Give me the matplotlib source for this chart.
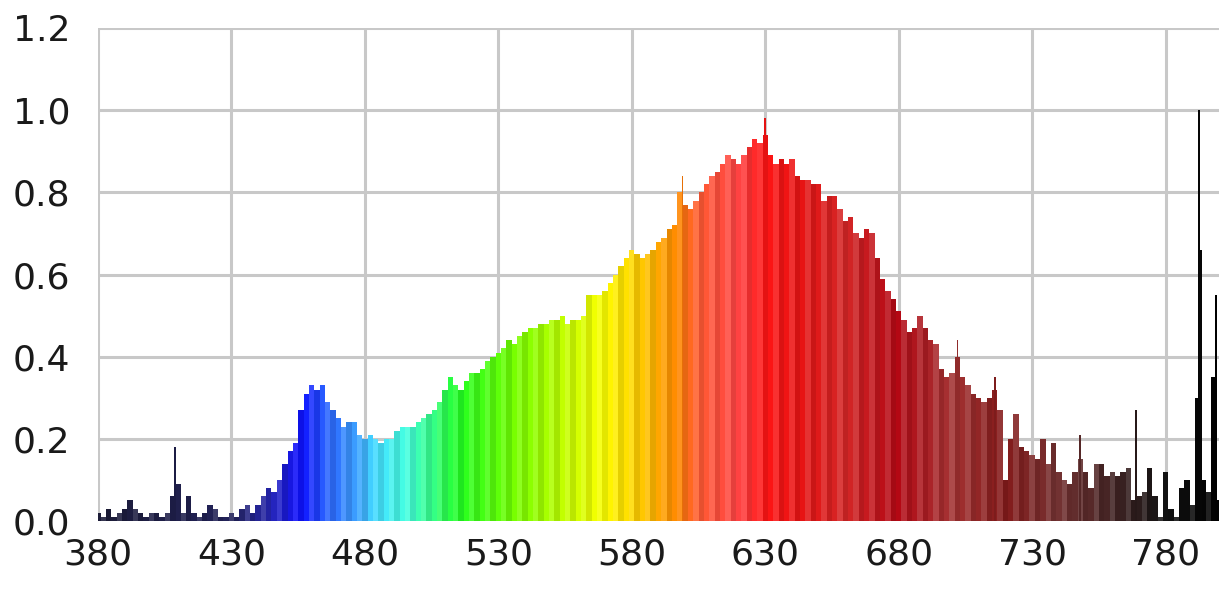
import numpy as np
import matplotlib
matplotlib.use('Agg')
import matplotlib.pyplot as plt
from matplotlib.colors import LinearSegmentedColormap, to_rgb

# spectrum sampled every 2 nm, 380..800
wavelength = np.arange(380, 801, 2)
intensity = [
    0.02, 0.01, 0.03, 0.01, 0.02, 0.03, 0.05, 0.03, 0.02, 0.01,  # 380
    0.02, 0.02, 0.01, 0.02, 0.06, 0.09, 0.02, 0.06, 0.02, 0.01,  # 400
    0.02, 0.04, 0.03, 0.01, 0.01, 0.02, 0.01, 0.03, 0.04, 0.02,  # 420
    0.04, 0.06, 0.08, 0.07, 0.10, 0.14, 0.17, 0.19, 0.27, 0.31,  # 440
    0.33, 0.32, 0.33, 0.29, 0.27, 0.25, 0.23, 0.24, 0.24, 0.21,  # 460
    0.20, 0.21, 0.20, 0.19, 0.20, 0.20, 0.22, 0.23, 0.23, 0.23,  # 480
    0.24, 0.25, 0.26, 0.27, 0.29, 0.32, 0.35, 0.33, 0.32, 0.34,  # 500
    0.36, 0.36, 0.37, 0.39, 0.40, 0.41, 0.42, 0.44, 0.43, 0.45,  # 520
    0.46, 0.47, 0.47, 0.48, 0.48, 0.49, 0.49, 0.50, 0.48, 0.49,  # 540
    0.49, 0.50, 0.55, 0.55, 0.55, 0.56, 0.58, 0.60, 0.62, 0.64,  # 560
    0.66, 0.65, 0.64, 0.65, 0.66, 0.68, 0.69, 0.71, 0.72, 0.80,  # 580
    0.77, 0.76, 0.78, 0.80, 0.82, 0.84, 0.85, 0.87, 0.89, 0.88,  # 600
    0.87, 0.89, 0.91, 0.93, 0.92, 0.94, 0.89, 0.87, 0.88, 0.87,  # 620
    0.88, 0.84, 0.83, 0.83, 0.82, 0.82, 0.78, 0.79, 0.79, 0.76,  # 640
    0.73, 0.74, 0.70, 0.69, 0.71, 0.70, 0.64, 0.59, 0.56, 0.54,  # 660
    0.51, 0.49, 0.46, 0.47, 0.50, 0.47, 0.44, 0.43, 0.37, 0.35,  # 680
    0.36, 0.40, 0.35, 0.33, 0.31, 0.30, 0.29, 0.30, 0.32, 0.27,  # 700
    0.10, 0.20, 0.26, 0.18, 0.17, 0.16, 0.15, 0.20, 0.14, 0.19,  # 720
    0.12, 0.10, 0.09, 0.12, 0.15, 0.12, 0.08, 0.14, 0.14, 0.11,  # 740
    0.12, 0.11, 0.12, 0.13, 0.05, 0.06, 0.07, 0.13, 0.06, 0.01,  # 760
    0.12, 0.03, 0.01, 0.08, 0.10, 0.04, 0.30, 0.10, 0.07, 0.35,  # 780
    0.05,                                                        # 800
]

# narrow emission lines on top of the sampled spectrum
spike_nm = [409, 599, 630, 702, 716, 748, 769, 792.4, 793.2, 799]
spike_val = [0.18, 0.84, 0.98, 0.44, 0.35, 0.21, 0.27, 1.00, 0.66, 0.55]

x_ticks = [380, 430, 480, 530, 580, 630, 680, 730, 780]
y_ticks = [0.0, 0.2, 0.4, 0.6, 0.8, 1.0, 1.2]

# wavelength -> colour
anchors = [
    (380, '#1c1c38'), (430, '#22225a'), (445, '#2626b8'), (455, '#0c0cff'),
    (465, '#2a62ff'), (475, '#3a98ff'), (485, '#44e4ff'), (495, '#44ffe0'),
    (505, '#34ff86'), (515, '#22ff22'), (535, '#72ff00'), (555, '#c4ff00'),
    (570, '#ffff00'), (585, '#ffc400'), (598, '#ff8200'), (605, '#ff5a34'),
    (620, '#ff4444'), (630, '#ff1414'), (645, '#e41414'), (660, '#d42626'),
    (680, '#b40814'), (700, '#a43434'), (720, '#841a1a'), (740, '#743232'),
    (760, '#442424'), (780, '#141414'), (800, '#000000'),
]
cmap = LinearSegmentedColormap.from_list(
    'spec', [((w - 380) / 420, c) for w, c in anchors])


def color_at(w, i):
    c = np.array(cmap((w - 380) / 420)[:3])
    k = i % 3
    if k == 1:
        c = c + (1 - c) * 0.12
    elif k == 2:
        c = c * 0.9
    return tuple(np.clip(c, 0, 1))


fig = plt.figure(figsize=(12.19, 5.89), dpi=100)
ax = fig.add_axes([0.0804, 0.1154, 0.9196, 0.8371])

bar_colors = [color_at(w, i) for i, w in enumerate(wavelength)]
ax.bar(wavelength, intensity, width=2.0, color=bar_colors, linewidth=0, zorder=2)
ax.bar(spike_nm, spike_val, width=0.7,
       color=[color_at(w, 2) for w in spike_nm], linewidth=0, zorder=3)

ax.set_xlim(380, 800)
ax.set_ylim(0, 1.2)
ax.set_xticks(x_ticks)
ax.set_yticks(y_ticks)
ax.set_yticklabels(['%.1f' % v for v in y_ticks])
ax.grid(True, color='#c8c8c8', linewidth=2.2, zorder=0)
ax.set_axisbelow(True)
for s in ax.spines.values():
    s.set_visible(False)
ax.tick_params(length=0, labelsize=26, colors='#1a1a1a')
ax.tick_params(axis='x', pad=12)
ax.tick_params(axis='y', pad=20)

fig.savefig('out.png', dpi=100, facecolor='white')
